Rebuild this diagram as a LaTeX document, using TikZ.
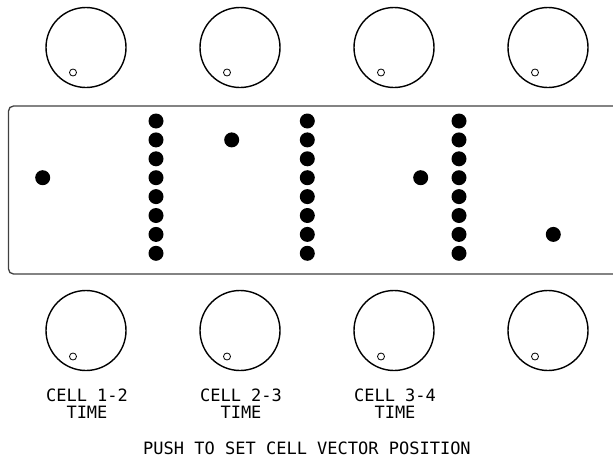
\documentclass[tikz,border=0pt]{standalone}
\usepackage{fontspec}
\setmainfont{DejaVu Sans Mono}

\begin{document}
\begin{tikzpicture}[x=1pt,y=-1pt,
  knob/.style={circle,draw=black,line width=1.4pt,minimum size=80pt,inner sep=0pt},
  pin/.style={circle,draw=black,line width=0.8pt,minimum size=7pt,inner sep=0pt},
  led/.style={circle,fill=black,inner sep=0pt,minimum size=15pt},
  lbl/.style={font=\fontsize{17}{17}\selectfont,align=center,inner sep=0pt}]
\useasboundingbox (0,0) rectangle (613,458);

% Display window, cut off at the right edge
\begin{scope}
\clip (0,0) rectangle (613,458);
\draw[line width=1.3pt,color=black!75,rounded corners=5pt] (8.5,106) rectangle (650,274);
\end{scope}

% Knobs above and below the display
\foreach \i/\x in {1/86,2/240,3/394,4/548}{
  \node[knob] (top\i) at (\x,47.5) {};
  \node[pin] (toppin\i) at ([xshift=-13pt,yshift=-25pt]top\i.center) {};
  \node[knob] (bot\i) at (\x,330.5) {};
  \node[pin] (botpin\i) at ([xshift=-13pt,yshift=-26pt]bot\i.center) {};
}

% Dot columns
\foreach \c/\x in {a/156,b/307.3,c/459}{
  \foreach \k in {1,...,8}{
    \node[led] (col\c\k) at (\x,{121+18.9*(\k-1)}) {};
  }
}

% Single dots
\node[led] (dot1) at (42.7,177.7) {};
\node[led] (dot2) at (231.7,139.9) {};
\node[led] (dot3) at (420.7,177.7) {};
\node[led] (dot4) at (553.3,234.4) {};

% Labels
\node[lbl] (time12) at (87,404) {CELL 1-2\\TIME};
\node[lbl] (time23) at (241,404) {CELL 2-3\\TIME};
\node[lbl] (time34) at (395,404) {CELL 3-4\\TIME};
\node[lbl] (push) at (307,448) {PUSH TO SET CELL VECTOR POSITION};

\end{tikzpicture}
\end{document}
